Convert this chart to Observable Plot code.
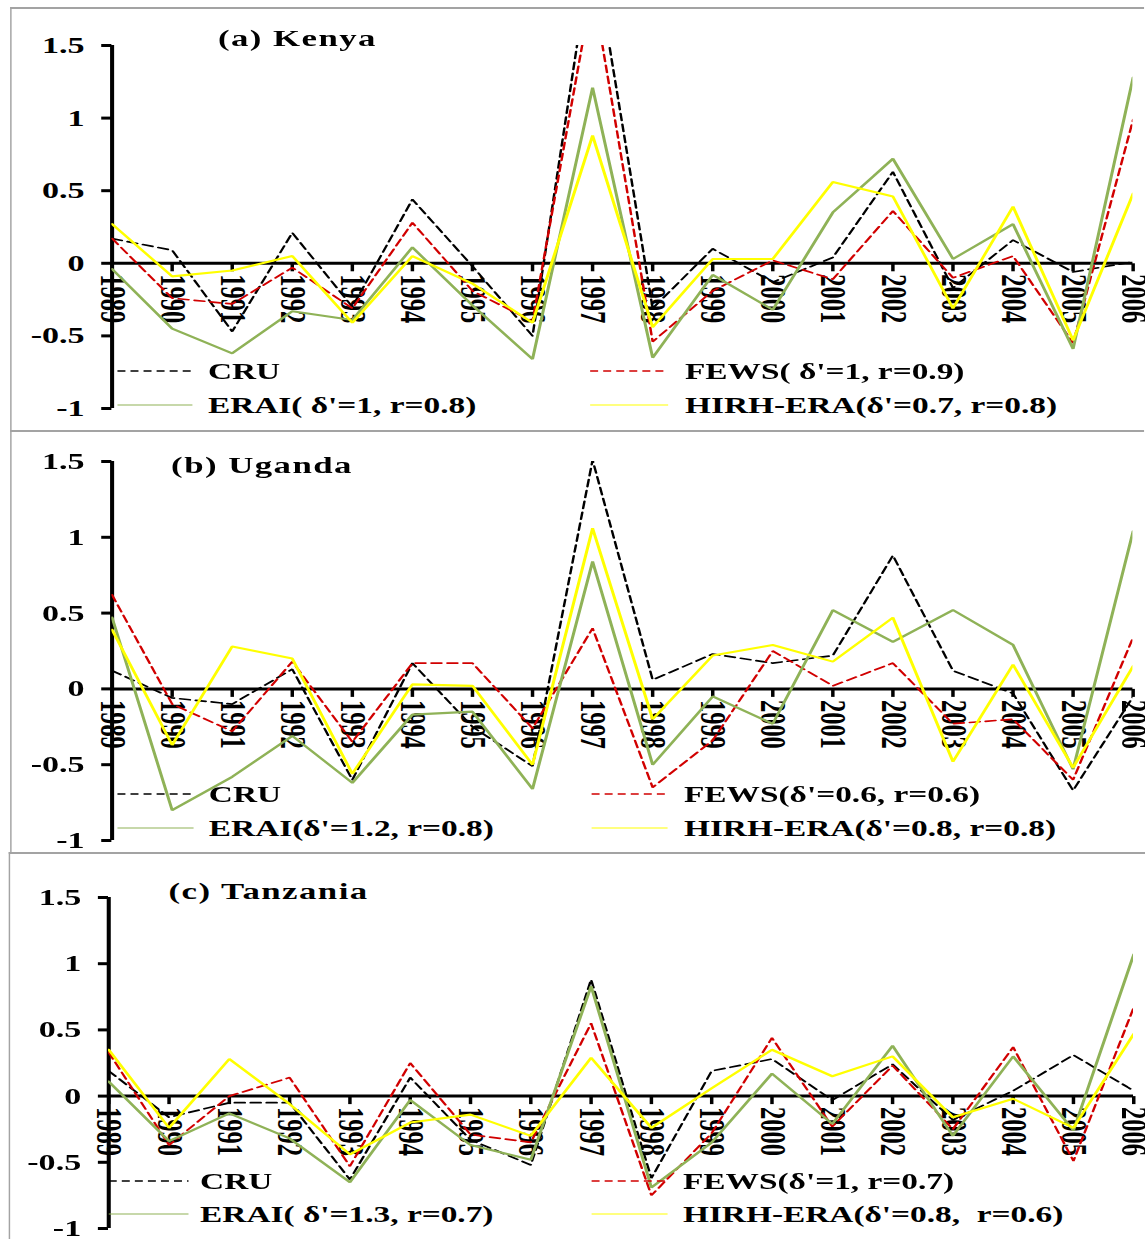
<!DOCTYPE html>
<html>
<head>
<meta charset="utf-8">
<script src="https://cdn.jsdelivr.net/npm/d3@7"></script>
<script src="https://cdn.jsdelivr.net/npm/@observablehq/plot@0.6"></script>
<style>
  html, body { margin: 0; padding: 0; background: #fff; overflow: hidden; }
  /* The figure is laid out at a narrower width and stretched horizontally */
  #page {
    position: relative; width: 790px; height: 1239px;
    transform: scaleX(1.45); transform-origin: 0 0;
    font-family: "Liberation Serif", "Times New Roman", serif;
  }
  .panel {
    position: absolute; background: #fff;
    border-top: 2px solid #a3a3a3; border-left: 1.5px solid #a3a3a3;
  }
  .panel svg { display: block; }
  .title {
    position: absolute; font-weight: bold; font-size: 24px; line-height: 1;
    letter-spacing: 1px; white-space: pre; transform: translateY(-50%);
  }
  .leg-text {
    position: absolute; font-weight: bold; font-size: 23px; line-height: 1;
    white-space: pre; transform: translateY(-50%);
  }
  .leg-line { position: absolute; overflow: visible; }
</style>
</head>
<body>
<div id="page"></div>
<script>
// Years on the horizontal axis
const years = [1989, 1990, 1991, 1992, 1993, 1994, 1995, 1996, 1997,
               1998, 1999, 2000, 2001, 2002, 2003, 2004, 2005, 2006];

// Value axis ticks
const yTicks = [-1, -0.5, 0, 0.5, 1, 1.5];

// Dataset names
const seriesNames = ["CRU", "FEWS", "ERAI", "HIRH-ERA"];

// (a) Kenya
const kenyaCRU  = [0.17, 0.09, -0.47, 0.21, -0.30, 0.44, -0.02, -0.50, 2.20, -0.31, 0.10, -0.13, 0.04, 0.63, -0.17, 0.16, -0.06, 0.01];
const kenyaFEWS = [0.17, -0.24, -0.28, -0.03, -0.31, 0.28, -0.19, -0.40, 1.90, -0.54, -0.19, 0.02, -0.11, 0.36, -0.10, 0.05, -0.55, 0.99];
const kenyaERAI = [-0.04, -0.45, -0.62, -0.33, -0.39, 0.11, -0.29, -0.66, 1.21, -0.65, -0.08, -0.32, 0.35, 0.72, 0.03, 0.27, -0.59, 1.28];
const kenyaHIRH = [0.27, -0.09, -0.05, 0.05, -0.41, 0.05, -0.14, -0.41, 0.88, -0.44, 0.03, 0.03, 0.56, 0.46, -0.31, 0.39, -0.53, 0.48];
const kenyaLegend = ["CRU", "FEWS( δ'=1, r=0.9)", "ERAI( δ'=1, r=0.8)", "HIRH-ERA(δ'=0.7, r=0.8)"];

// (b) Uganda
const ugandaCRU  = [0.12, -0.06, -0.10, 0.13, -0.60, 0.17, -0.25, -0.51, 1.51, 0.06, 0.23, 0.17, 0.22, 0.88, 0.12, -0.03, -0.67, -0.05];
const ugandaFEWS = [0.62, -0.10, -0.28, 0.18, -0.35, 0.17, 0.17, -0.26, 0.40, -0.65, -0.34, 0.25, 0.02, 0.17, -0.23, -0.20, -0.60, 0.34];
const ugandaERAI = [0.47, -0.80, -0.58, -0.31, -0.62, -0.17, -0.15, -0.66, 0.84, -0.50, -0.05, -0.23, 0.52, 0.31, 0.52, 0.29, -0.53, 1.04];
const ugandaHIRH = [0.39, -0.37, 0.28, 0.20, -0.56, 0.03, 0.02, -0.50, 1.06, -0.20, 0.22, 0.29, 0.18, 0.47, -0.48, 0.16, -0.52, 0.15];
const ugandaLegend = ["CRU", "FEWS(δ'=0.6, r=0.6)", "ERAI(δ'=1.2, r=0.8)", "HIRH-ERA(δ'=0.8, r=0.8)"];

// (c) Tanzania
const tanzaniaCRU  = [0.19, -0.16, -0.05, -0.05, -0.63, 0.14, -0.33, -0.52, 0.88, -0.62, 0.19, 0.28, -0.03, 0.24, -0.18, 0.04, 0.31, 0.04];
const tanzaniaFEWS = [0.33, -0.37, 0.00, 0.14, -0.53, 0.25, -0.29, -0.35, 0.55, -0.75, -0.28, 0.44, -0.23, 0.23, -0.25, 0.37, -0.49, 0.67];
const tanzaniaERAI = [0.11, -0.34, -0.13, -0.32, -0.65, -0.03, -0.37, -0.48, 0.83, -0.69, -0.35, 0.17, -0.21, 0.38, -0.30, 0.30, -0.26, 1.07];
const tanzaniaHIRH = [0.35, -0.24, 0.28, -0.06, -0.44, -0.20, -0.14, -0.30, 0.29, -0.24, 0.06, 0.35, 0.15, 0.30, -0.16, -0.02, -0.24, 0.47];
const tanzaniaLegend = ["CRU", "FEWS(δ'=1, r=0.7)", "ERAI( δ'=1.3, r=0.7)", "HIRH-ERA(δ'=0.8,  r=0.6)"];

const titles = ["(a) Kenya", "(b) Uganda", "(c) Tanzania"];

// Line appearance per dataset
const lineStyle = {
  "CRU":      {stroke: "#000000", strokeWidth: 1.7, strokeDasharray: "7,4"},
  "FEWS":     {stroke: "#d10000", strokeWidth: 1.7, strokeDasharray: "7,4"},
  "ERAI":     {stroke: "#8fb257", strokeWidth: 2.1},
  "HIRH-ERA": {stroke: "#ffff00", strokeWidth: 2.1}
};
const legendStyle = {
  "CRU":      {stroke: "#000000", width: 1.3, dash: "5.5,3.5"},
  "FEWS":     {stroke: "#d10000", width: 1.3, dash: "5.5,3.5"},
  "ERAI":     {stroke: "#8fb257", width: 1.2, dash: null},
  "HIRH-ERA": {stroke: "#ffff00", width: 1.2, dash: null}
};

// Panel boxes and plot margins (x in unstretched units, y in page pixels)
const panels = [
  {values: [kenyaCRU, kenyaFEWS, kenyaERAI, kenyaHIRH], legend: kenyaLegend, title: titles[0],
   left: 6.9, top: 7, height: 421, marginLeft: 68.8, marginTop: 36, marginBottom: 22,
   titleX: 150.3, titleY: 38,
   legRows: [371, 405], legLeft: [80.7, 132.4, 143.4], legRight: [406.9, 460.7, 472.4]},
  {values: [ugandaCRU, ugandaFEWS, ugandaERAI, ugandaHIRH], legend: ugandaLegend, title: titles[1],
   left: 6.9, top: 430, height: 420, marginLeft: 68.8, marginTop: 29, marginBottom: 12,
   titleX: 118, titleY: 465,
   legRows: [794, 828], legLeft: [81, 133.5, 144], legRight: [407.6, 460, 471.7]},
  {values: [tanzaniaCRU, tanzaniaFEWS, tanzaniaERAI, tanzaniaHIRH], legend: tanzaniaLegend, title: titles[2],
   left: 5.5, top: 852, height: 385, marginLeft: 67.5, marginTop: 43, marginBottom: 11,
   titleX: 116.2, titleY: 891,
   legRows: [1181, 1214], legLeft: [75, 130, 138], legRight: [407.6, 460, 471]}
];

const PAGE_W = 790;
const END_X = 781.4; // position of the last year

// Short downward tick drawn at each year on the zero line
const tickDown = {
  draw(context) {
    context.moveTo(0, 0);
    context.lineTo(0, 8);
  }
};

const page = document.getElementById("page");

function drawPanel(p) {
  const rows = [];
  seriesNames.forEach((s, k) => {
    p.values[k].forEach((v, i) => rows.push({series: s, year: years[i], value: v}));
  });
  const baseRows = years.map(y => ({year: y, base: 0}));
  const contentLeft = p.left + 1.5;
  const width = PAGE_W - contentLeft;
  const marginRight = width - (END_X - contentLeft);

  const chart = Plot.plot({
    width,
    height: p.height,
    marginLeft: p.marginLeft,
    marginRight,
    marginTop: p.marginTop,
    marginBottom: p.marginBottom,
    style: {fontFamily: "'Liberation Serif', 'Times New Roman', serif", background: "transparent", overflow: "visible"},
    x: {domain: [years[0], years[years.length - 1]], axis: null},
    y: {domain: [yTicks[0], yTicks[yTicks.length - 1]]},
    marks: [
      // year labels, rotated, just below the zero line
      Plot.text(baseRows, {
        x: "year", y: "base", text: d => String(d.year),
        rotate: 90, textAnchor: "start", lineAnchor: "middle",
        dy: 11, fontSize: 24.5, fontWeight: "bold", fill: "#000"
      }),
      // zero line acting as the category axis
      Plot.ruleY([{y: 0, x1: years[0], x2: years[years.length - 1]}],
        {y: "y", x1: "x1", x2: "x2", stroke: "#000", strokeWidth: 3}),
      Plot.dot(baseRows, {x: "year", y: "base", symbol: tickDown, stroke: "#000", strokeWidth: 2.4, fill: "none"}),
      // value axis
      Plot.ruleX([{x: years[0], y1: yTicks[0], y2: yTicks[yTicks.length - 1]}],
        {x: "x", y1: "y1", y2: "y2", stroke: "#000", strokeWidth: 2.8}),
      Plot.axisY({
        ticks: yTicks, tickFormat: d => String(d), tickSize: 7, tickPadding: 12,
        fontSize: 23.5, fontWeight: "bold", stroke: "#000", strokeWidth: 3, fill: "#000"
      }),
      // the four datasets
      ...seriesNames.map(s => Plot.line(rows.filter(r => r.series === s), {
        x: "year", y: "value", ...lineStyle[s], strokeLinejoin: "miter", clip: true
      }))
    ]
  });

  const box = document.createElement("div");
  box.className = "panel";
  box.style.left = p.left + "px";
  box.style.top = p.top + "px";
  box.style.width = width + "px";
  box.style.height = p.height + "px";
  box.appendChild(chart);
  page.appendChild(box);

  // title
  const t = document.createElement("div");
  t.className = "title";
  t.textContent = p.title;
  t.style.left = p.titleX + "px";
  t.style.top = p.titleY + "px";
  page.appendChild(t);

  // legend: CRU, FEWS on the first row; ERAI, HIRH-ERA on the second
  const slots = [
    [p.legLeft, p.legRows[0]], [p.legRight, p.legRows[0]],
    [p.legLeft, p.legRows[1]], [p.legRight, p.legRows[1]]
  ];
  seriesNames.forEach((s, k) => {
    const [col, rowY] = slots[k];
    const st = legendStyle[s];
    const w = col[1] - col[0];
    const svg = d3.create("svg")
      .attr("class", "leg-line")
      .attr("width", w).attr("height", 4)
      .style("left", col[0] + "px").style("top", (rowY - 2) + "px");
    svg.append("line")
      .attr("x1", 0).attr("x2", w).attr("y1", 2).attr("y2", 2)
      .attr("stroke", st.stroke).attr("stroke-width", st.width)
      .attr("stroke-dasharray", st.dash);
    page.appendChild(svg.node());

    const lab = document.createElement("div");
    lab.className = "leg-text";
    lab.textContent = p.legend[k];
    lab.style.left = col[2] + "px";
    lab.style.top = rowY + "px";
    page.appendChild(lab);
  });
}

panels.forEach(drawPanel);
</script>
</body>
</html>
